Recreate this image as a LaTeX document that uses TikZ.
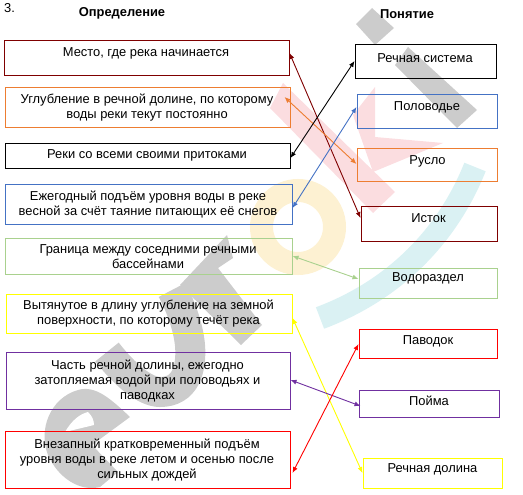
\documentclass[tikz,border=0pt]{standalone}
\usepackage{fontspec}
\setmainfont{Liberation Sans}
\usetikzlibrary{arrows.meta}
\definecolor{qdarkred}{HTML}{7F0000}
\definecolor{qorange}{HTML}{ED7D31}
\definecolor{qblue}{HTML}{4472C4}
\definecolor{qgreen}{HTML}{A9D18E}
\definecolor{qyellow}{HTML}{FFFF00}
\definecolor{qpurple}{HTML}{7030A0}
\definecolor{qred}{HTML}{FF0000}
\definecolor{wgray}{HTML}{CCCCCC}
\definecolor{wpink}{HTML}{FBDDE0}
\definecolor{wyellow}{HTML}{FDF1D2}
\definecolor{wcyan}{HTML}{DAF1F3}
\tikzset{
  cell/.style={draw, line width=1pt, inner sep=0pt},
  txt/.style={font=\fontsize{12.9}{15}\selectfont, align=center, inner sep=0pt},
  head/.style={font=\fontsize{12.9}{15}\selectfont\bfseries, inner sep=0pt},
  link/.style={arrows={Latex[length=6pt,width=5pt]-Latex[length=6pt,width=5pt]}, line width=0.9pt}
}
\begin{document}
\begin{tikzpicture}[x=1pt,y=-1pt]
  \useasboundingbox (0,0) rectangle (523,495);

  %watermark:
  \fill[wgray] (372,8) -- (394,28) -- (375,45) -- (356,24) -- cycle;
  \fill[wgray] (408,47) -- (477,110) -- (457,128) -- (395,65) -- cycle;
  \fill[wpink] (283,83) -- (395,192) -- (373,213) -- (270,108) -- cycle;
  \fill[wpink] (353,115) -- (375,87) -- (375,137) -- (443,143) -- (373,172) -- cycle;
  \draw[wyellow, line width=23pt] (298,227) circle (36.5);
  \draw[wcyan, line width=23pt] (320,318) .. controls (400,288) and (450,230) .. (475,167);
  \fill[wgray] (180,285) -- (227,235) -- (233,258) -- (218,268) -- (262,325) -- (241,345) -- cycle;
  \draw[wgray, line width=30pt] (107,352) .. controls (125,375) and (145,392) .. (160,392)
    .. controls (185,392) and (192,370) .. (190,345) .. controls (188,325) and (180,305) .. (172,290);
  \fill[wgray] (130,417) .. controls (110,398) and (95,385) .. (78,390)
    .. controls (50,398) and (38,430) .. (48,455) .. controls (58,478) and (80,492) .. (100,487)
    -- (118,472) -- (92,445) -- cycle;
  \fill[white] (65,432) .. controls (72,420) and (80,414) .. (88,412) .. controls (92,416) and (94,420) .. (94,425) -- cycle;

  %left boxes
  \node[cell, draw=qdarkred, minimum width=285pt, minimum height=35pt] (mesto) at (146.5,58.5) {};
  \node[cell, draw=qorange, minimum width=285pt, minimum height=40pt] (uglub) at (147.5,108) {};
  \node[cell, draw=black, minimum width=285pt, minimum height=25pt] (reki) at (147.5,156.5) {};
  \node[cell, draw=qblue, minimum width=287pt, minimum height=39pt] (podem) at (148.5,204.5) {};
  \node[cell, draw=qgreen, minimum width=287pt, minimum height=36pt] (granica) at (148.5,256) {};
  \node[cell, draw=qyellow, minimum width=286pt, minimum height=39pt] (vytyan) at (149,313.5) {};
  \node[cell, draw=qpurple, minimum width=284pt, minimum height=57pt] (chast) at (148,380.5) {};
  \node[cell, draw=qred, minimum width=285pt, minimum height=57pt] (vnezap) at (147.5,459.5) {};

  %right boxes
  \node[cell, draw=black, minimum width=141pt, minimum height=34pt] (sistema) at (425.5,62) {};
  \node[cell, draw=qblue, minimum width=140pt, minimum height=34pt] (polov) at (427,112) {};
  \node[cell, draw=qorange, minimum width=140pt, minimum height=33pt] (ruslo) at (427,165.5) {};
  \node[cell, draw=qdarkred, minimum width=136pt, minimum height=35pt] (istok) at (429,223.5) {};
  \node[cell, draw=qgreen, minimum width=138pt, minimum height=30pt] (vodor) at (428,283) {};
  \node[cell, draw=qred, minimum width=138pt, minimum height=29pt] (pavodok) at (428,343.5) {};
  \node[cell, draw=qpurple, minimum width=140pt, minimum height=27pt] (poima) at (429,403.5) {};
  \node[cell, draw=qyellow, minimum width=139pt, minimum height=30pt] (dolina) at (432.5,473) {};

  %titles
  \node[txt, anchor=north west] (num) at (4,3.5) {3.};
  \node[head] (opred) at (122,13.5) {Определение};
  \node[head] (ponyat) at (407,14.5) {Понятие};

  %left texts
  \node[txt] (t1) at (146,53) {Место, где река начинается};
  \node[txt] (t2) at (147,108) {Углубление в речной долине, по которому\\воды реки текут постоянно};
  \node[txt] (t3) at (147,155) {Реки со всеми своими притоками};
  \node[txt] (t4) at (148,204.5) {Ежегодный подъём уровня воды в реке\\весной за счёт таяние питающих её снегов};
  \node[txt] (t5) at (148,257) {Граница между соседними речными\\бассейнами};
  \node[txt] (t6) at (148.5,314) {Вытянутое в длину углубление на земной\\поверхности, по которому течёт река};
  \node[txt] (t7) at (147.5,380.5) {Часть речной долины, ежегодно\\затопляемая водой при половодьях и\\паводках};
  \node[txt] (t8) at (147,460) {Внезапный кратковременный подъём\\уровня воды в реке летом и осенью после\\сильных дождей};

  %right texts
  \node[txt] (c1) at (425,58) {Речная система};
  \node[txt] (c2) at (427,107.5) {Половодье};
  \node[txt] (c3) at (427.5,161) {Русло};
  \node[txt] (c4) at (428.5,218.5) {Исток};
  \node[txt] (c5) at (428,278.5) {Водораздел};
  \node[txt] (c6) at (428,341) {Паводок};
  \node[txt] (c7) at (429,400.5) {Пойма};
  \node[txt] (c8) at (432.5,469) {Речная долина};

  %connectors
  \draw[link, qdarkred] ([yshift=5.5pt]mesto.east) -- ([yshift=5.5pt]istok.west);
  \draw[link, qorange] ([xshift=-6pt,yshift=11pt]uglub.east) -- ([yshift=1.5pt]ruslo.west);
  \draw[link, black] ([yshift=-1.5pt]reki.east) -- ([yshift=1pt]sistema.west);
  \draw[link, qblue] ([yshift=-3.5pt]podem.east) -- ([yshift=5pt]polov.west);
  \draw[link, qgreen] (granica.east) -- ([yshift=4pt]vodor.west);
  \draw[link, qyellow] ([yshift=-4.5pt]vytyan.east) -- (dolina.west);
  \draw[link, qpurple] ([yshift=0.5pt]chast.east) -- ([xshift=2pt,yshift=-2.5pt]poima.west);
  \draw[link, qred] ([xshift=2pt,yshift=-13.5pt]vnezap.east) -- ([yshift=-0.5pt]pavodok.west);
\end{tikzpicture}
\end{document}
